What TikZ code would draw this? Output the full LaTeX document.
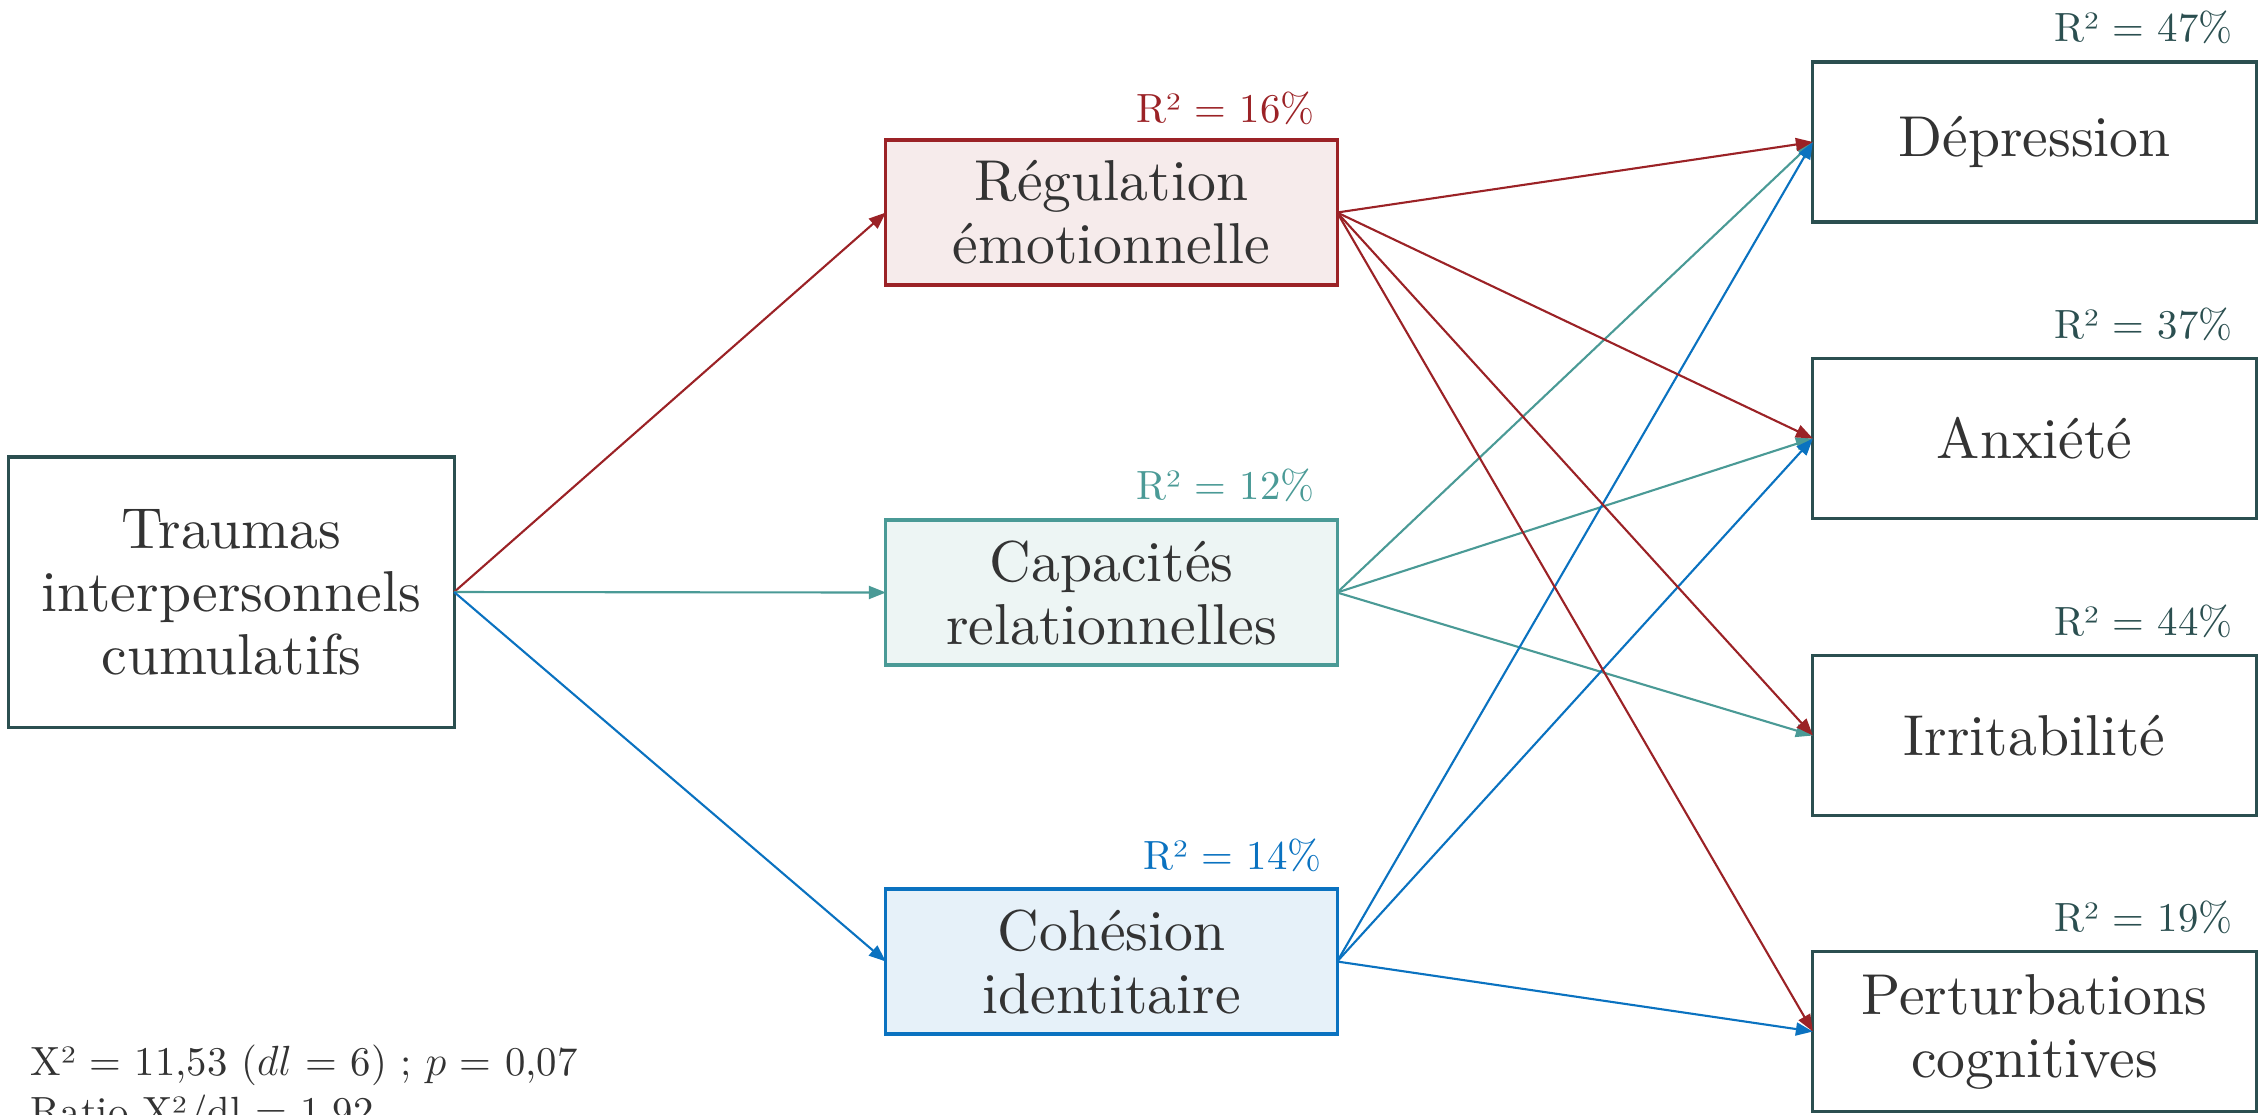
\documentclass[tikz,border=0pt]{standalone}
\usepackage{fontspec}
\setmainfont{lmroman10-regular.otf}[ItalicFont=lmroman10-italic.otf, BoldFont=lmroman10-bold.otf]
\usepackage{xcolor}
\usetikzlibrary{arrows.meta}

\definecolor{rouge}{HTML}{9B2226}
\definecolor{sarcelle}{HTML}{4A9A96}
\definecolor{bleu}{HTML}{0A72C0}
\definecolor{ardoise}{HTML}{2B4F50}
\definecolor{texte}{HTML}{333333}

\begin{document}
\begin{tikzpicture}[x=0.01cm,y=-0.01cm,
    boite/.style={draw=ardoise, line width=0.9pt, text=texte, align=center,
      inner sep=0pt, outer sep=0pt, font=\fontsize{16.4}{17.9}\selectfont},
    mediateur/.style={boite, minimum width=4.51cm, minimum height=1.45cm},
    issue/.style={boite, minimum width=4.43cm, minimum height=1.60cm},
    rcarre/.style={anchor=base east, inner sep=0pt, font=\fontsize{11.6}{14}\selectfont},
    fleche/.style={line width=0.6pt, -{Triangle[length=1.7mm,width=1.3mm]}}]

  \useasboundingbox (0,0) rectangle (2258,1114);

  \node[boite, minimum width=4.45cm, minimum height=2.70cm] (traumas) at (231.5,592) {Traumas\\interpersonnels\\cumulatifs};

  \node[mediateur, draw=rouge, fill=rouge!9] (regul) at (1111.5,212.5) {Régulation\\émotionnelle};
  \node[mediateur, draw=sarcelle, fill=sarcelle!10] (capac) at (1111.5,592.5) {Capacités\\relationnelles};
  \node[mediateur, draw=bleu, fill=bleu!10] (cohes) at (1111.5,961.5) {Cohésion\\identitaire};

  \node[issue] (depr) at (2034.5,142) {Dépression};
  \node[issue] (anx) at (2034.5,438.5) {Anxiété};
  \node[issue] (irrit) at (2034.5,735.5) {Irritabilité};
  \node[issue] (pert) at (2034.5,1031.5) {Perturbations\\cognitives};

  \node[rcarre, text=rouge] (r-regul) at ([shift={(-22,-17)}]regul.north east) {R² = 16\%};
  \node[rcarre, text=sarcelle] (r-capac) at ([shift={(-22,-20)}]capac.north east) {R² = 12\%};
  \node[rcarre, text=bleu] (r-cohes) at ([shift={(-15,-19)}]cohes.north east) {R² = 14\%};
  \node[rcarre, text=ardoise] (r-depr) at ([shift={(-23,-20)}]depr.north east) {R² = 47\%};
  \node[rcarre, text=ardoise] (r-anx) at ([shift={(-23,-20)}]anx.north east) {R² = 37\%};
  \node[rcarre, text=ardoise] (r-irrit) at ([shift={(-23,-20)}]irrit.north east) {R² = 44\%};
  \node[rcarre, text=ardoise] (r-pert) at ([shift={(-23,-20)}]pert.north east) {R² = 19\%};

  \draw[fleche, rouge] (traumas.east) -- (regul.west);
  \draw[fleche, sarcelle] (traumas.east) -- (capac.west);
  \draw[fleche, bleu] (traumas.east) -- (cohes.west);

  \draw[fleche, sarcelle] (capac.east) -- (depr.west);
  \draw[fleche, sarcelle] (capac.east) -- (anx.west);
  \draw[fleche, sarcelle] (capac.east) -- (irrit.west);

  \draw[fleche, bleu] (cohes.east) -- (depr.west);
  \draw[fleche, bleu] (cohes.east) -- (anx.west);
  \draw[fleche, bleu] (cohes.east) -- (pert.west);

  \draw[fleche, rouge] (regul.east) -- (depr.west);
  \draw[fleche, rouge] (regul.east) -- (anx.west);
  \draw[fleche, rouge] (regul.east) -- (irrit.west);
  \draw[fleche, rouge] (regul.east) -- (pert.west);

  \node[anchor=base west, align=left, inner sep=0pt, text=texte, font=\fontsize{11.6}{14.2}\selectfont] (ajust) at (30,1125)
    {X² = 11,53 ($dl$ = 6) ; $p$ = 0,07\\Ratio X²/dl = 1,92};

\end{tikzpicture}
\end{document}
